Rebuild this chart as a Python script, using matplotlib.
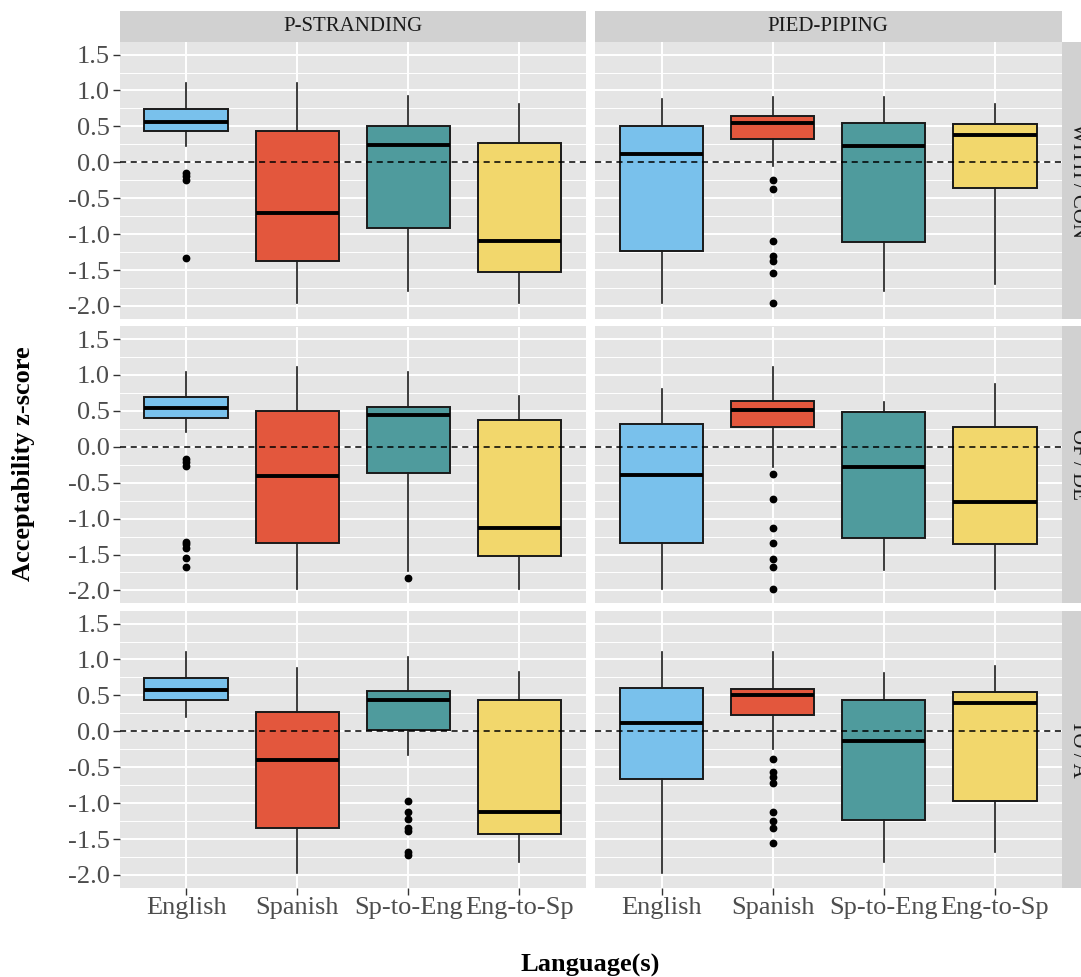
import matplotlib
matplotlib.use("Agg")
import matplotlib.pyplot as plt

plt.rcParams['font.family'] = ['Liberation Serif', 'DejaVu Serif']

languages = ["English", "Spanish", "Sp-to-Eng", "Eng-to-Sp"]
col_labels = ["P-STRANDING", "PIED-PIPING"]
row_labels = ["WITH / CON", "OF / DE", "TO / A"]
colors = ["#79C1EC", "#E3573D", "#4F9B9D", "#F2D76C"]

# ---- WITH / CON ----
with_pstr_whislo = [0.22, -1.96, -1.79, -1.96]
with_pstr_q1 = [0.43, -1.37, -0.92, -1.53]
with_pstr_med = [0.56, -0.71, 0.24, -1.10]
with_pstr_q3 = [0.74, 0.43, 0.51, 0.27]
with_pstr_whishi = [1.10, 1.10, 0.92, 0.81]
with_pstr_fliers = [[-0.15, -0.19, -0.25, -1.33], [], [], []]

with_pied_whislo = [-1.96, -0.05, -1.79, -1.70]
with_pied_q1 = [-1.23, 0.32, -1.11, -0.36]
with_pied_med = [0.12, 0.55, 0.22, 0.38]
with_pied_q3 = [0.51, 0.64, 0.55, 0.54]
with_pied_whishi = [0.88, 0.91, 0.91, 0.81]
with_pied_fliers = [[], [-0.24, -0.37, -1.10, -1.31, -1.37, -1.54, -1.96], [], []]

# ---- OF / DE ----
of_pstr_whislo = [0.21, -1.98, -1.73, -1.98]
of_pstr_q1 = [0.40, -1.34, -0.36, -1.52]
of_pstr_med = [0.54, -0.40, 0.44, -1.13]
of_pstr_q3 = [0.69, 0.50, 0.56, 0.38]
of_pstr_whishi = [1.04, 1.11, 1.04, 0.71]
of_pstr_fliers = [[-0.17, -0.21, -0.27, -1.33, -1.36, -1.41, -1.55, -1.68], [], [-1.82], []]

of_pied_whislo = [-1.98, -0.28, -1.72, -1.98]
of_pied_q1 = [-1.34, 0.27, -1.27, -1.35]
of_pied_med = [-0.39, 0.51, -0.28, -0.77]
of_pied_q3 = [0.32, 0.64, 0.48, 0.27]
of_pied_whishi = [0.81, 1.11, 0.62, 0.88]
of_pied_fliers = [[], [-0.38, -0.73, -1.13, -1.34, -1.56, -1.68, -1.98], [], []]

# ---- TO / A ----
to_pstr_whislo = [0.20, -1.98, -0.33, -1.82]
to_pstr_q1 = [0.44, -1.35, 0.02, -1.43]
to_pstr_med = [0.57, -0.40, 0.44, -1.12]
to_pstr_q3 = [0.74, 0.27, 0.56, 0.43]
to_pstr_whishi = [1.11, 0.88, 1.04, 0.82]
to_pstr_fliers = [[], [], [-0.97, -1.12, -1.22, -1.34, -1.39, -1.68, -1.72], []]

to_pied_whislo = [-1.98, -0.25, -1.82, -1.68]
to_pied_q1 = [-0.66, 0.23, -1.23, -0.97]
to_pied_med = [0.12, 0.50, -0.13, 0.40]
to_pied_q3 = [0.60, 0.59, 0.43, 0.55]
to_pied_whishi = [1.10, 1.10, 0.81, 0.91]
to_pied_fliers = [[], [-0.38, -0.56, -0.64, -0.72, -1.12, -1.25, -1.34, -1.56], [], []]

y_ticks = [1.5, 1.0, 0.5, 0.0, -0.5, -1.0, -1.5, -2.0]
y_ticklabels = ["1.5", "1.0", "0.5", "0.0", "-0.5", "-1.0", "-1.5", "-2.0"]

panels = [
    [(with_pstr_whislo, with_pstr_q1, with_pstr_med, with_pstr_q3, with_pstr_whishi, with_pstr_fliers),
     (with_pied_whislo, with_pied_q1, with_pied_med, with_pied_q3, with_pied_whishi, with_pied_fliers)],
    [(of_pstr_whislo, of_pstr_q1, of_pstr_med, of_pstr_q3, of_pstr_whishi, of_pstr_fliers),
     (of_pied_whislo, of_pied_q1, of_pied_med, of_pied_q3, of_pied_whishi, of_pied_fliers)],
    [(to_pstr_whislo, to_pstr_q1, to_pstr_med, to_pstr_q3, to_pstr_whishi, to_pstr_fliers),
     (to_pied_whislo, to_pied_q1, to_pied_med, to_pied_q3, to_pied_whishi, to_pied_fliers)],
]

W, H = 1081, 977
fig = plt.figure(figsize=(W / 100, H / 100), dpi=100)

col_left = [119.5, 595.0]
col_w = 466.5
row_top = [42.0, 326.5, 611.0]
row_h = 276.5
strip_h = 31.0

panel_bg = "#E5E5E5"
strip_bg = "#D1D1D1"
tick_col = "#4D4D4D"

def rect(x, y, w, h):
    return [x / W, 1 - (y + h) / H, w / W, h / H]

for r in range(3):
    for c in range(2):
        ax = fig.add_axes(rect(col_left[c], row_top[r], col_w, row_h))
        ax.set_facecolor(panel_bg)
        for s in ax.spines.values():
            s.set_visible(False)
        wl, q1, md, q3, wh, fl = panels[r][c]
        stats = []
        for i in range(4):
            stats.append(dict(whislo=wl[i], q1=q1[i], med=md[i], q3=q3[i],
                              whishi=wh[i], fliers=fl[i], label=languages[i]))
        pos = list(range(1, 5))
        bp = ax.bxp(stats, positions=pos, widths=0.75, patch_artist=True,
                    showcaps=False, zorder=3,
                    boxprops=dict(edgecolor="#1a1a1a", linewidth=1.4),
                    medianprops=dict(color="black", linewidth=2.8, solid_capstyle="butt"),
                    whiskerprops=dict(color="#1a1a1a", linewidth=1.2),
                    flierprops=dict(marker="o", markersize=4.6, markerfacecolor="black",
                                    markeredgecolor="black", linestyle="none"))
        for patch, col in zip(bp["boxes"], colors):
            patch.set_facecolor(col)
        ax.axhline(0, color="black", linestyle=(0, (4, 3)), linewidth=1.1, zorder=4)
        ax.set_xlim(0.4, 4.6)
        ax.set_ylim(-2.175, 1.675)
        ax.set_yticks(y_ticks)
        ax.set_yticks([1.25, 0.75, 0.25, -0.25, -0.75, -1.25, -1.75], minor=True)
        ax.set_xticks(pos)
        ax.grid(True, which="major", color="white", linewidth=1.4, zorder=0)
        ax.grid(True, which="minor", axis="y", color="white", linewidth=0.7, zorder=0)
        ax.set_axisbelow(True)
        ax.tick_params(which="minor", length=0)
        ax.tick_params(which="major", length=5, width=1.0, color="#333333",
                       labelsize=19, labelcolor=tick_col, pad=2)
        if c == 0:
            ax.set_yticklabels(y_ticklabels)
        else:
            ax.tick_params(axis="y", length=0, labelleft=False)
        if r == 2:
            ax.set_xticklabels(languages)
        else:
            ax.tick_params(axis="x", length=0, labelbottom=False)

        if r == 0:
            sax = fig.add_axes(rect(col_left[c], row_top[0] - strip_h, col_w, strip_h))
            sax.set_facecolor(strip_bg)
            sax.set_xticks([]); sax.set_yticks([])
            for s in sax.spines.values():
                s.set_visible(False)
            sax.text(0.5, 0.5, col_labels[c], ha="center", va="center",
                     fontsize=15, color="#1a1a1a", transform=sax.transAxes)
        if c == 1:
            rax = fig.add_axes(rect(col_left[1] + col_w + 0.5, row_top[r], strip_h, row_h))
            rax.set_facecolor(strip_bg)
            rax.set_xticks([]); rax.set_yticks([])
            for s in rax.spines.values():
                s.set_visible(False)
            rax.text(0.5, 0.5, row_labels[r], ha="center", va="center", rotation=-90,
                     fontsize=15, color="#1a1a1a", transform=rax.transAxes)

fig.text(24 / W, 1 - 464 / H, "Acceptability z-score", rotation=90, ha="center",
         va="center", fontsize=19, fontweight="bold", color="black")
fig.text(590 / W, 1 - 965 / H, "Language(s)", ha="center", va="center",
         fontsize=19, fontweight="bold", color="black")

fig.savefig("out.png", dpi=100, facecolor="white")
